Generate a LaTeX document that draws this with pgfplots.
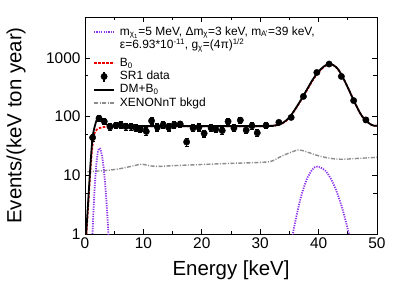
\documentclass[border=0pt]{standalone}
\usepackage{fontspec}
\setmainfont{Liberation Sans}
\usepackage{pgfplots}
\pgfplotsset{compat=1.18}
\definecolor{dmviolet}{RGB}{140,50,235}
\definecolor{bkgray}{RGB}{140,140,140}
\definecolor{bred}{RGB}{235,0,0}
\pgfplotsset{
  legend image code/.code={\draw[mark repeat=2,mark phase=2,#1] plot coordinates {(0bp,0bp) (10bp,0bp) (20bp,0bp)};},
  datalegend/.style={legend image code/.code={\draw[black,line width=1.2bp] (10bp,-5bp)--(10bp,5bp); \fill[black] (10bp,0bp) circle (3.2bp);}},
}
\newcommand\rA{\rule[-2bp]{0pt}{12bp}}
\newcommand\rB{\rule[-7.8bp]{0pt}{16.8bp}}
\newcommand\rC{\rule[-3.5bp]{0pt}{13.3bp}}
\begin{document}
\begin{tikzpicture}
\begin{axis}[
 scale only axis, width=292bp, height=217bp,
 xmin=0, xmax=50, ymode=log, ymin=1, ymax=5000,
 xtick={0,10,20,30,40,50}, xticklabels={0,10,20,30,40,50},
 minor xtick={5,15,25,35,45},
 ytick={1,10,100,1000}, yticklabels={1,10,100,1000},
 minor ytick={5,50,500},
 tick align=inside, major tick length=5bp, minor tick length=3.5bp,
 tick style={black, line width=0.8bp},
 axis line style={line width=0.8bp},
 ticklabel style={font=\fontsize{15.5}{18}\selectfont},
 yticklabel style={xshift=-1bp},
 xlabel={Energy [keV]}, ylabel={Events/(keV ton year)},
 label style={font=\fontsize{20.5}{24}\selectfont},
 xlabel style={at={(axis description cs:0.5,-0.1935)}, anchor=base},
 ylabel style={at={(axis description cs:-0.236,0.5)}, anchor=center},
 legend style={at={(axis description cs:0,1)}, anchor=north west, xshift=8bp, yshift=-8bp, draw=none, fill=none, inner sep=0pt, font=\fontsize{12}{14}\selectfont, nodes={inner sep=0pt, text depth=}, column sep=5bp, row sep=0pt},
 legend cell align=left,
]
\addlegendimage{dmviolet, line width=1.8bp, dash pattern=on 1.2bp off 1.2bp}
\addlegendentry{\rA m\textsubscript{χ\textsubscript{1}}=5 MeV, Δm\textsubscript{χ}=3 keV, m\textsubscript{A'}=39 keV,}
\addlegendimage{empty legend}
\addlegendentry{\rB ε=6.93*10\textsuperscript{-11}, g\textsubscript{χ}=(4π)\textsuperscript{1/2}}
\addlegendimage{bred, line width=1.8bp, dash pattern=on 2.5bp off 1.5bp}
\addlegendentry{\rC B\textsubscript{0}}
\addlegendimage{datalegend}
\addlegendentry{\rC SR1 data}
\addlegendimage{black, line width=1.8bp}
\addlegendentry{\rC DM+B\textsubscript{0}}
\addlegendimage{bkgray, line width=1.4bp, dash pattern=on 4bp off 1.5bp on 1bp off 1.5bp}
\addlegendentry{\rC XENONnT bkgd}

% XENONnT background
\addplot[forget plot, bkgray, line width=1.4bp, dash pattern=on 4bp off 1.5bp on 1bp off 1.5bp, smooth] coordinates {
(0.4,11.5)(2,11.8)(4,12.2)(6,13)(8,14.3)(9.7,15.5)(11,14.6)(12.5,14.2)(15,14.6)(20,15.3)(25,16)(30,16.6)(32,17.5)(34,22)(36.5,27)(38,25)(40,21.5)(42,19.5)(44,18.8)(47,19.5)(50,20.3)};

% DM signal
\addplot[forget plot, dmviolet, line width=1.8bp, dash pattern=on 1.2bp off 1.2bp, smooth] coordinates {
(1.25,0.83)(1.4,1.91)(1.6,4.87)(1.8,10.2)(2.0,17.6)(2.2,24.9)(2.45,29)(2.7,26.6)(3.0,19.1)(3.3,10.6)(3.6,4.6)(3.9,1.57)(4.1,0.66)};
\addplot[forget plot, dmviolet, line width=1.8bp, dash pattern=on 1.2bp off 1.2bp, smooth] coordinates {
(35.4,0.78)(36,1.62)(37,4.35)(38,8.67)(39,12.8)(39.8,14.1)(41,12.4)(42,9.09)(43,5.57)(44,2.85)(45,1.21)(45.5,0.74)};

% B0
\addplot[forget plot, bred, line width=1.8bp, dash pattern=on 2.5bp off 1.5bp, smooth] coordinates {
(0.25,1)(0.45,2.1)(0.65,4.4)(0.85,9)(1.05,18)(1.25,30)(1.5,45)(1.7,55)(2.0,60)(2.3,63)(3,66)(4,68)(5,69)(10,69)(20,69)(31,69)(32,70)(33,72)(34,79)(35,95)(36,133)(37,191)(38,281)(39,417)(40,576)(41,718)(41.8,782)(42.5,755)(43,697)(43.5,608)(44,498)(44.5,399)(45,314)(45.5,245)(46,190)(46.5,150)(47,120)(47.5,100)(48,88)(48.5,79)(49,73)(49.5,70)(50,70)};

% DM+B0
\addplot[forget plot, black, line width=1.8bp, smooth] coordinates {
(0.2,1)(0.4,2.1)(0.6,4.4)(0.8,9.3)(1.0,19)(1.2,35)(1.4,52)(1.7,70)(2.0,88)(2.3,97)(2.6,95)(3.0,86)(3.4,78)(4.0,71)(5,69)(10,69)(20,69)(31,69)(32,70)(33,72)(34,80)(35,97)(36,135)(37,195)(38,290)(39,430)(40,590)(41,730)(41.8,790)(42.5,760)(43,700)(43.5,610)(44,500)(44.5,400)(45,315)(45.5,245)(46,190)(46.5,150)(47,120)(47.5,100)(48,88)(48.5,79)(49,73)(49.5,70)(50,70)};

% SR1 data
\addplot[forget plot, only marks, mark=*, mark size=3.2bp, black,
  error bars/.cd, y dir=both, y explicit,
  error bar style={line width=1.2bp},
  error mark options={rotate=90, mark size=2bp, line width=1.2bp}]
 table[x=x, y=y, y error=e] {
x y e
1.3 44 6
2.4 94 11
3.3 83 10
4.3 67 9
5.3 71 9
6.1 73 9
7.0 68 9
7.9 68 9
8.7 64 8
9.5 61 8
10.5 56 8
11.4 85 10
12.4 66 9
13.4 73 9
14.3 66 9
15.3 73 9
16.3 75 9
17.4 37 6
18.5 64 8
19.5 66 9
20.4 52 7
21.6 64 8
22.4 61 8
23.5 58 8
24.5 83 10
25.5 64 8
26.6 87 10
27.6 59 8
28.6 70 9
29.5 53 7
31.0 71 7
33.2 80 7
35.3 97 8
37.4 221 11
39.7 567 20
41.8 789 25
43.9 485 20
46.0 188 11
48.1 88 8
};
\end{axis}
\path ([xshift=-85bp,yshift=-71bp]current axis.south west) rectangle ([xshift=19bp,yshift=17bp]current axis.north east);
\end{tikzpicture}
\end{document}
